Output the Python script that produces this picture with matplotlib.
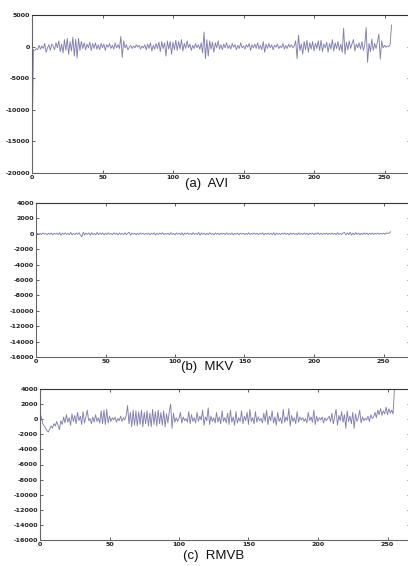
import numpy as np
import matplotlib
matplotlib.use("Agg")
import matplotlib.pyplot as plt

plt.rcParams["axes.unicode_minus"] = False

# values (index 0..255)
avi = [
    -17000, -500, -600, -300, -500, 200, -400, 100, -300, 500, -900, -200, 300, -600, 400, 100,
    -500, 600, -200, 900, -800, 400, -1000, 1100, -600, 1300, -1200, 800, -700, 1500, -1500, 1200,
    -1800, 1300, -600, 800, -300, 600, -500, 400, -200, 700, -600, 500, -300, 600, -400, 300,
    -500, 500, -200, 400, -600, 300, -100, 500, -300, 200, -400, 600, -200, 300, -300, 1600,
    -1700, 900, -200, 300, -500, -100, 200, -300, 100, -200, 300, -100, 200, -400, 100, -200,
    300, -500, 400, -300, 600, -700, 200, -400, 500, -300, 700, -800, 800, -300, 600, -1500,
    900, -400, 800, -1200, 700, -500, 1000, -600, 800, -400, 1100, -700, 500, -300, 900, -200,
    400, -600, 200, -300, 500, -200, 300, -400, 600, -1000, 2300, -1900, 1100, -1500, 900, -400,
    700, -900, 600, -200, 900, -400, 300, -500, 400, -200, 600, -300, 200, -400, 500, -100,
    300, -500, 200, -300, 600, -200, 100, -400, 300, -100, 500, -600, 300, -200, 400, -300,
    600, -400, 200, -500, 800, -900, 400, -300, 500, -200, 300, -500, 200, -100, 400, -300,
    100, -200, 500, -400, 200, -300, 400, -100, 300, -200, 100, 900, -1900, 1800, -600, 400,
    -1200, 800, -500, 1000, -900, 600, -400, 800, -700, 500, -300, 900, -600, 1000, -800, 400,
    -200, 700, -900, 500, -400, 1100, -700, 600, -300, 800, -600, 400, -900, 2900, -1200, 700,
    -500, 900, -300, 500, 1100, -700, 400, -200, 600, -400, 800, -600, 300, 3000, -2500, 500,
    -800, 1200, -600, 500, -300, 700, 2000, -2000, 900, -200, 200, -100, 100, 0, 300, 3400,
]

mkv = [
    0, 50, -80, 60, -100, 120, -60, 40, -120, 80, -50, 100, -150, 60, -40, 90,
    -100, 150, -200, 100, -60, 120, -80, 50, -120, 180, -150, 60, -90, 110, -70, 140,
    -180, -400, 200, -150, 100, -80, 120, -200, 150, -100, 60, -140, 180, -120, 90, -60,
    110, -150, 80, -90, 140, -60, 50, -110, 130, -70, 90, -160, 120, -80, 60, -100,
    150, -120, 70, 200, -180, 100, -50, 80, -120, 60, -90, 110, -40, 70, -100, 50,
    -60, 90, -130, 80, -50, 120, -150, 70, -80, 100, -60, 140, -110, 50, -70, 90,
    -120, 160, -90, 60, -140, 110, -60, 80, -100, 130, -170, 90, -50, 120, -80, 60,
    -110, 140, -70, 50, -90, 180, -200, 120, -60, 90, -130, 70, -100, 150, -80, 60,
    -140, 100, -60, 80, -120, 90, -50, 70, -110, 130, -80, 60, -90, 120, -150, 80,
    -60, 100, -130, 70, -40, 90, -110, 60, -80, 140, -100, 50, -70, 110, -60, 80,
    -120, 90, -50, 130, -160, 80, -60, 100, -90, 70, -120, 150, -180, 110, -70, 60,
    -100, 80, -50, 120, -90, 60, -140, 100, -60, 90, -70, 50, -110, 130, -80, 60,
    -90, 110, -60, 80, -130, 100, -50, 70, -120, 90, -60, 140, -100, 70, -80, 60,
    -50, 90, -110, 70, -60, 100, -80, 50, -120, 150, -90, 60, -70, 110, 180, -150,
    120, -100, 200, -160, 90, -130, 170, -80, 110, -140, 60, -90, 130, -70, 100, -120,
    80, -60, 110, -90, 70, -50, 100, -80, 60, -40, 90, -70, 120, 50, 100, 250,
]

rmvb = [
    800, 200, -600, -900, -1200, -1500, -1700, -1300, -900, -1200, -600, -900, -300, -800, -1400, -200,
    -700, 300, -500, 600, -400, 200, -800, 700, -300, 500, -600, 900, -200, 400, -700, 1000,
    -500, 300, 1200, -200, 100, -600, 300, -400, 600, -300, 200, -500, 1100, -600, 1200, -700,
    1300, -500, 400, -300, 200, -100, 300, -400, 100, -200, 400, -300, 200, -100, 500, 1800,
    -600, 900, -1000, 1200, -800, 1100, -900, 1000, -700, 1200, -1000, 900, -600, 1100, -900, 800,
    -1000, 1300, -700, 1000, -900, 1200, -600, 900, -800, 1100, -1000, 700, -500, 1000, 2000, -1200,
    800, -400, 200, -300, 100, 900, -500, 300, -200, 100, -400, 1000, -600, 600, -300, 200,
    -500, 900, -300, 400, -100, 1200, -800, 300, -200, 1500, -700, 400, -300, 200, -500, 900,
    -400, 300, -600, 1100, -300, 200, -500, 800, -700, 1200, -400, 300, -800, 1000, -500, 200,
    -300, 1100, -600, 400, -200, 900, -700, 1300, -300, 200, -600, 1000, -400, 300, -200, 100,
    -500, 800, -300, 1200, -700, 400, -200, 1100, -500, 300, -800, 900, -300, 200, -600, 1300,
    -400, 300, -200, 1400, -900, 500, -300, 200, -600, 1000, -400, 300, -100, 200, -300, 100,
    -500, 900, -200, 300, -400, 1200, -700, 400, -300, 200, -100, 300, -500, 200, -200, 100,
    400, -300, 800, -600, 300, 1300, -800, 500, -200, 1000, -400, 600, -1200, 1100, -300, 400,
    -600, 900, -1200, 700, -300, 200, 1200, -500, 300, -200, 100, -100, 400, -300, 600, 100,
    300, 900, 200, 1200, 600, 1400, 500, 1100, 700, 1600, 600, 1400, 800, 1200, 700, 4000,
]

xticks = [0, 50, 100, 150, 200, 250]
yticks_a = [-20000, -15000, -10000, -5000, 0, 5000]
yticks_bc = [-16000, -14000, -12000, -10000, -8000, -6000, -4000, -2000, 0, 2000, 4000]
titles = ["(a)  AVI", "(b)  MKV", "(c)  RMVB"]

W, H = 408, 566
fig = plt.figure(figsize=(W / 100, H / 100), dpi=100)
fig.patch.set_facecolor("white")

# pixel boxes: (x of zero, top, bottom, px per unit)
boxes = [(32, 15, 173, 1.41), (36, 203, 357, 1.39), (40, 389, 540, 1.39)]
series = [avi, mkv, rmvb]
ylims = [(-20000, 5000), (-16000, 4000), (-16000, 4000)]
yticks = [yticks_a, yticks_bc, yticks_bc]
title_pos = [(207, 184), (207, 367), (214, 556)]

line_col = "#8080b0"
for i in range(3):
    x0, top, bot, scale = boxes[i]
    # right spine sits just off the image, as in the cropped original
    ax = fig.add_axes([x0 / W, 1 - bot / H, (W + 2 - x0) / W, (bot - top) / H])
    xs = np.arange(len(series[i]))
    ax.plot(xs, series[i], color=line_col, lw=0.65)
    ax.set_xlim(0, (W + 2 - x0) / scale)
    ax.set_ylim(*ylims[i])
    ax.set_xticks(xticks)
    ax.set_yticks(yticks[i])
    ax.tick_params(direction="in", length=2.5, width=0.6, labelsize=4.6,
                   top=True, right=True, pad=1.5, colors="#444444", labelcolor="#222222")
    for lbl in ax.get_xticklabels() + ax.get_yticklabels():
        lbl.set_fontweight("bold")
    for s in ax.spines.values():
        s.set_color("#666666")
        s.set_linewidth(0.8)
    ax.spines["top"].set_color("#333333")
    tx, ty = title_pos[i]
    fig.text(tx / W, 1 - ty / H, titles[i], ha="center", va="center",
             fontsize=9.5, family="Liberation Sans", color="#111111")

fig.savefig("out.png", dpi=100)
